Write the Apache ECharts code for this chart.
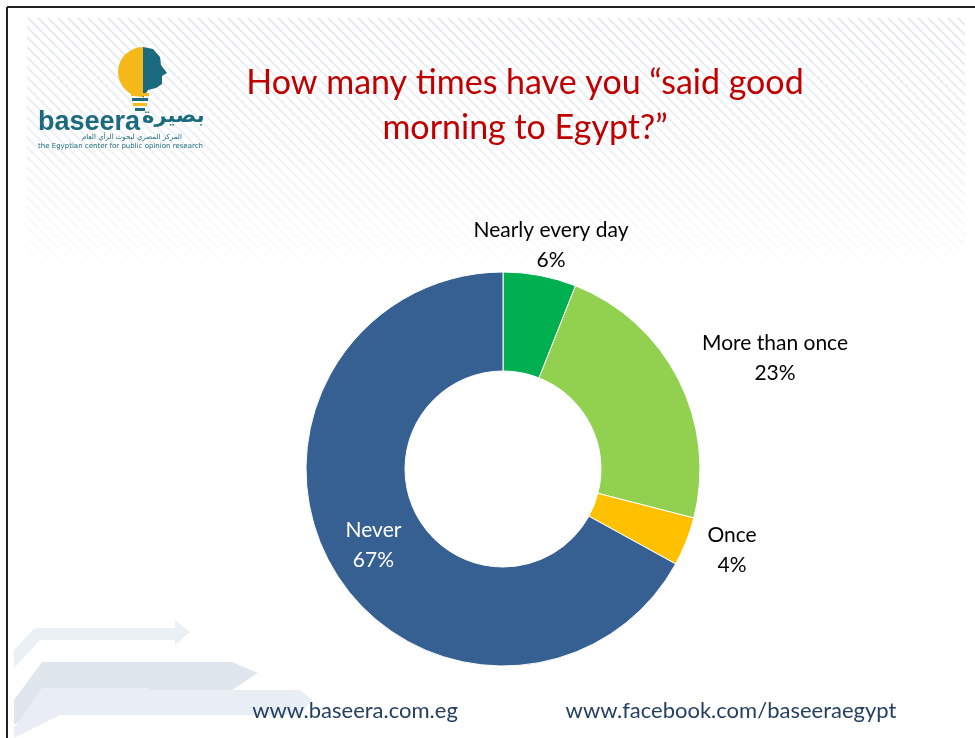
<!DOCTYPE html>
<html>
<head>
<meta charset="utf-8">
<script src="https://cdn.jsdelivr.net/npm/echarts@6/dist/echarts.min.js"></script>
<style>
html,body{margin:0;padding:0;background:#fff;}
#main{width:975px;height:738px;}
</style>
</head>
<body>
<div id="main"></div>
<script>
// ---- data ----
var categories = ['Nearly every day', 'More than once', 'Once', 'Never'];
var values = [6, 23, 4, 67];
var colors = ['#00B050', '#92D050', '#FFC000', '#376092'];
var titleLines = ['How many times have you \u201csaid good', 'morning to Egypt?\u201d'];
var footerLeft = 'www.baseera.com.eg';
var footerRight = 'www.facebook.com/baseeraegypt';

// label anchor positions (centre of each outside label block)
var labelPos = {0: [551, 245], 1: [775, 358], 2: [732, 550]};

// hatch pattern tile
var tile = document.createElement('canvas');
tile.width = 10; tile.height = 10;
var tc = tile.getContext('2d');
tc.strokeStyle = '#E6EAEF';
tc.lineWidth = 2;
tc.beginPath();
tc.moveTo(-1, -1); tc.lineTo(11, 11);
tc.moveTo(-6, 4); tc.lineTo(6, 16);
tc.moveTo(4, -6); tc.lineTo(16, 6);
tc.stroke();

var chart = echarts.init(document.getElementById('main'), null, {renderer: 'canvas'});

var FONT = 'Lato, "Open Sans", sans-serif';

var pieData = categories.map(function (c, i) {
  var d = {name: c, value: values[i], itemStyle: {color: colors[i]}};
  if (i === 3) d.label = {position: 'inside', color: '#ffffff'};
  return d;
});

var option = {
  backgroundColor: '#ffffff',
  animation: false,
  graphic: [
    // border lines of slide
    {type: 'line', shape: {x1: 7, y1: 7, x2: 975, y2: 7}, style: {stroke: '#222', lineWidth: 2}, z: 0},
    {type: 'line', shape: {x1: 7, y1: 7, x2: 7, y2: 738}, style: {stroke: '#222', lineWidth: 2}, z: 0},
    // hatched background band
    {type: 'rect', shape: {x: 27, y: 18, width: 938, height: 255},
      style: {fill: {image: tile, repeat: 'repeat'}}, z: -10, silent: true},
    {type: 'rect', shape: {x: 27, y: 18, width: 938, height: 255},
      style: {fill: new echarts.graphic.LinearGradient(0, 0, 0, 1, [
        {offset: 0, color: 'rgba(255,255,255,0)'},
        {offset: 0.5, color: 'rgba(255,255,255,0.35)'},
        {offset: 1, color: 'rgba(255,255,255,0.95)'}
      ])}, z: -9, silent: true},
    // decorative arrows bottom-left
    {type: 'polygon', shape: {points: [[14,650],[35,628],[175,628],[175,620],[190,632],[175,645],[175,640],[40,640],[14,668]]},
      style: {fill: '#EBF0F5'}, z: -5},
    {type: 'polygon', shape: {points: [[14,700],[42,662],[232,662],[258,673],[232,690],[60,690],[14,725]]},
      style: {fill: '#DFE6EE'}, z: -5},
    {type: 'polygon', shape: {points: [[14,728],[42,688],[150,688],[150,690],[300,690],[312,700],[300,715],[60,715],[14,738]]},
      style: {fill: '#E8EEF4'}, z: -5},
    // logo: bulb
    {type: 'sector', shape: {cx: 143, cy: 72, r0: 0, r: 25, startAngle: Math.PI / 2, endAngle: Math.PI * 3 / 2}, style: {fill: '#F5B91C'}, z: 2},
    {type: 'polygon', shape: {points: [[143,47],[153,49],[160,57],[161,65],[167,73],[162,76],[162,84],[156,88],[148,90],[143,98]]}, style: {fill: '#1C6A7D'}, z: 2},
    {type: 'polygon', shape: {points: [[124,82],[143,98],[143,47],[130,60]]}, style: {fill: '#F5B91C'}, z: 1},
    {type: 'rect', shape: {x: 131, y: 93, width: 18, height: 3}, style: {fill: '#F5B91C'}, z: 2},
    {type: 'rect', shape: {x: 132, y: 98, width: 16, height: 3}, style: {fill: '#1C6A7D'}, z: 2},
    {type: 'rect', shape: {x: 133, y: 103, width: 14, height: 3}, style: {fill: '#F5B91C'}, z: 2},
    {type: 'rect', shape: {x: 135, y: 108, width: 10, height: 3}, style: {fill: '#1C6A7D'}, z: 2},
    {type: 'text', left: 38, top: 109, style: {text: 'baseera', font: 'bold 27px "Liberation Sans", sans-serif', fill: '#1C6A7D'}, z: 3},
    {type: 'text', left: 142, top: 106, style: {text: '\u0628\u0635\u064a\u0631\u0629', font: 'bold 21px "DejaVu Sans", sans-serif', fill: '#1C6A7D'}, z: 3},
    {type: 'text', left: 82, top: 134, style: {text: '\u0627\u0644\u0645\u0631\u0643\u0632 \u0627\u0644\u0645\u0635\u0631\u064a \u0644\u0628\u062d\u0648\u062b \u0627\u0644\u0631\u0623\u064a \u0627\u0644\u0639\u0627\u0645', font: '7px "DejaVu Sans", sans-serif', fill: '#1C6A7D'}, z: 3},
    {type: 'text', left: 38, top: 143, style: {text: 'the Egyptian center for public opinion research', font: '7px "DejaVu Sans", sans-serif', fill: '#1C6A7D'}, z: 3},
    // title
    {type: 'text', x: 525, y: 83, style: {text: titleLines[0], font: '34px ' + FONT, fill: '#C00000', align: 'center', verticalAlign: 'middle'}, z: 3},
    {type: 'text', x: 525, y: 128, style: {text: titleLines[1], font: '34px ' + FONT, fill: '#C00000', align: 'center', verticalAlign: 'middle'}, z: 3},
    // footer
    {type: 'text', x: 355, y: 711, style: {text: footerLeft, font: '22px ' + FONT, fill: '#243F60', align: 'center', verticalAlign: 'middle'}, z: 3},
    {type: 'text', x: 731, y: 711, style: {text: footerRight, font: '22px ' + FONT, fill: '#243F60', align: 'center', verticalAlign: 'middle'}, z: 3}
  ],
  series: [{
    type: 'pie',
    center: [503, 469],
    radius: [98, 197],
    startAngle: 90,
    clockwise: true,
    avoidLabelOverlap: false,
    itemStyle: {borderColor: '#ffffff', borderWidth: 1},
    label: {
      show: true,
      position: 'outside',
      formatter: '{b}\n{d}%',
      fontFamily: FONT,
      fontSize: 21,
      lineHeight: 30,
      color: '#000',
      align: 'center'
    },
    labelLine: {show: false},
    labelLayout: function (params) {
      var p = labelPos[params.dataIndex];
      if (!p) return {};
      return {x: p[0], y: p[1], align: 'center', verticalAlign: 'middle'};
    },
    data: pieData,
    emphasis: {disabled: true}
  }]
};
chart.setOption(option);
</script>
</body>
</html>
